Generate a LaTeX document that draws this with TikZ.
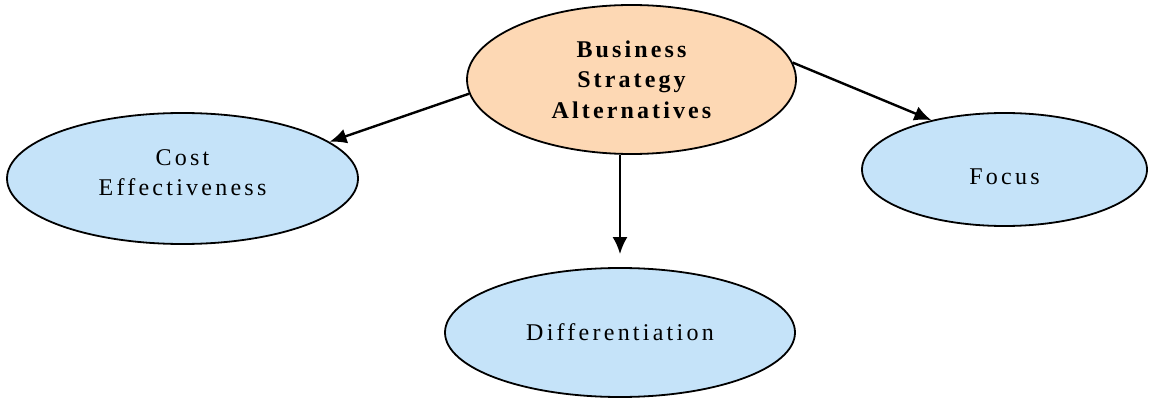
\documentclass[tikz,border=0pt]{standalone}
\usepackage{fontspec}
\setmainfont{Liberation Serif}
\usepackage{tikz}
\usetikzlibrary{arrows.meta,shapes.geometric}

\definecolor{peach}{HTML}{FDD8B4}
\definecolor{paleblue}{HTML}{C5E3F9}

\begin{document}
\begin{tikzpicture}[x=1pt,y=-1pt]

	\tikzstyle strategy box=[ellipse, draw, line width=1.8pt, inner sep=0pt];
	\tikzstyle strategy text=[align=center, font=\fontsize{24}{30.5}\selectfont\addfontfeatures{LetterSpace=13.5}];
	\tikzstyle main box=[strategy box, fill=peach, strategy text, font=\fontsize{24}{30.5}\selectfont\bfseries\addfontfeatures{LetterSpace=13}];
	\tikzstyle option box=[strategy box, fill=paleblue];
	\tikzstyle choice lines=[line width=2.4pt, -{Latex[length=17pt,width=15pt]}];

	\useasboundingbox (0,0) rectangle (1151,398);

	\node[main box, minimum width=329pt, minimum height=149pt] (bsa) at (631.5,79.5) {Business\\Strategy\\Alternatives};

	\node[option box, minimum width=351pt, minimum height=131pt,
		label={[strategy text, yshift=6pt]center:Cost\\Effectiveness}] (cost) at (182.5,178.5) {};
	\node[option box, minimum width=285pt, minimum height=113pt,
		label={[strategy text, yshift=-7pt]center:Focus}] (focus) at (1004.5,169.5) {};
	\node[option box, minimum width=350pt, minimum height=129pt,
		label={[strategy text]center:Differentiation}] (diff) at (620,332.5) {};

	\draw[choice lines] (bsa.185) -- (cost.14);
	\draw[choice lines] (bsa.6) -- (focus.146);
	\draw[choice lines] (bsa.south -| diff.north) -- ([yshift=13pt]diff.north);

\end{tikzpicture}
\end{document}
